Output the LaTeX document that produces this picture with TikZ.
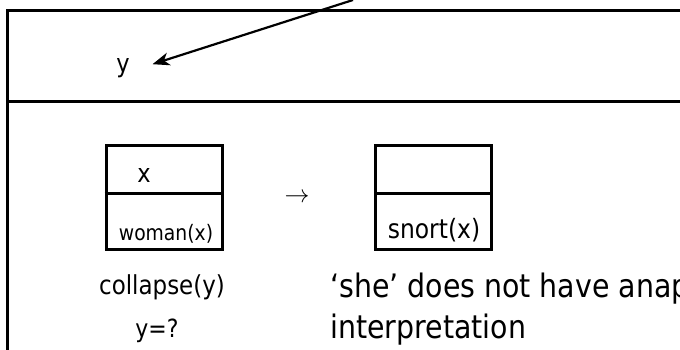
\documentclass[tikz,border=0pt]{standalone}
\usepackage{fontspec}
\setmainfont[FakeStretch=0.88]{DejaVu Sans}
\usetikzlibrary{arrows.meta}
\begin{document}
\begin{tikzpicture}[x=1pt,y=-1pt,
  frame/.style={line width=3pt},
  drsbox/.style={draw,line width=3pt,minimum width=116pt,minimum height=104pt,inner sep=0pt},
  divider/.style={line width=3pt},
  lbl/.style={inner sep=0pt,anchor=base,font=\fontsize{25.6}{30}\selectfont},
  biglbl/.style={inner sep=0pt,anchor=base west,font=\fontsize{32.3}{38}\selectfont},
  pointer/.style={line width=2.2pt,-{Stealth[length=17pt,width=13pt,inset=5pt]},shorten >=31pt}
]
\useasboundingbox (0,0) rectangle (680,349);
% outer frame
\draw[frame,line join=miter] (7,352) -- (7,10) -- (683,10);
\draw[frame] (7,101) -- (683,101);
% discourse referent of the main box
\node[lbl] (yv) at (123,72) {y};
\coordinate (src) at (353,0);
\draw[pointer] (src) -- ([yshift=-6pt]yv.center);
% left sub-box
\node[drsbox] (lb) at (164,197) {};
\draw[divider] ([yshift=4pt]lb.west) -- ([yshift=4pt]lb.east);
\node[lbl] (xv) at (144,182) {x};
\node[lbl,font=\fontsize{21.3}{25}\selectfont] (woman) at (166,240) {woman(x)};
% implication arrow
\node[inner sep=0pt,font=\fontsize{24}{28}\selectfont] (imp) at (297,198) {$\rightarrow$};
% right sub-box
\node[drsbox] (rb) at (433.5,197) {};
\draw[divider] ([yshift=4pt]rb.west) -- ([yshift=4pt]rb.east);
\node[lbl,font=\fontsize{26.6}{31}\selectfont] (snort) at (434,238) {snort(x)};
% bottom texts
\node[lbl,font=\fontsize{26.1}{30}\selectfont] (coll) at (162,294) {collapse(y)};
\node[lbl,font=\fontsize{25}{29}\selectfont] (yq) at (157,337) {y=?};
\node[biglbl] (she) at (330,297) {‘she’ does not have anap};
\node[biglbl] (interp) at (330,338) {interpretation};
\end{tikzpicture}
\end{document}
